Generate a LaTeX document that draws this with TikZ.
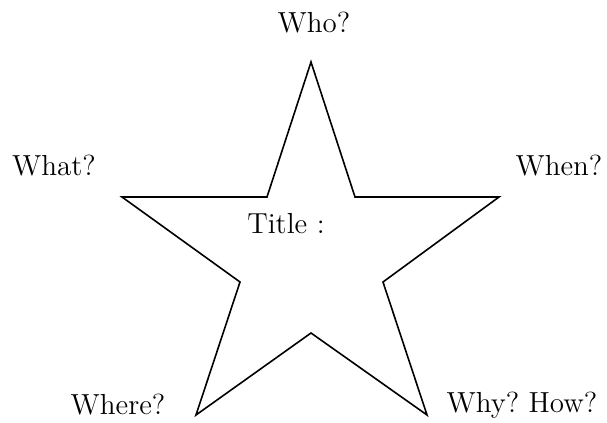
\documentclass[tikz,border=0pt]{standalone}
\begin{document}
\begin{tikzpicture}[x=0.5pt, y=-0.5pt, every node/.style={font=\fontsize{14.5}{17}\selectfont}]

\useasboundingbox (0,0) rectangle (607,423);

% star corners
\coordinate (top) at (311, 62);
\coordinate (inR) at (355,197);
\coordinate (tipR) at (499,197);
\coordinate (inBR) at (383,282);
\coordinate (tipBR) at (427,415);
\coordinate (inB) at (311,333);
\coordinate (tipBL) at (196,415);
\coordinate (inBL) at (240,282);
\coordinate (tipL) at (122,197);
\coordinate (inL) at (267,197);

\draw[line width=0.8pt, line join=miter]
  (top) -- (inR) -- (tipR) -- (inBR) -- (tipBR) -- (inB)
  -- (tipBL) -- (inBL) -- (tipL) -- (inL) -- cycle;

% labels
\node (who) at (314, 23) {Who?};
\node (what) at (54, 166) {What?};
\node (when) at (559, 166) {When?};
\node (where) at (118, 405) {Where?};
\node (whyhow) at (522, 405) {\frenchspacing Why? How?};
\node (title) at (286, 224) {Title :};

\end{tikzpicture}
\end{document}
